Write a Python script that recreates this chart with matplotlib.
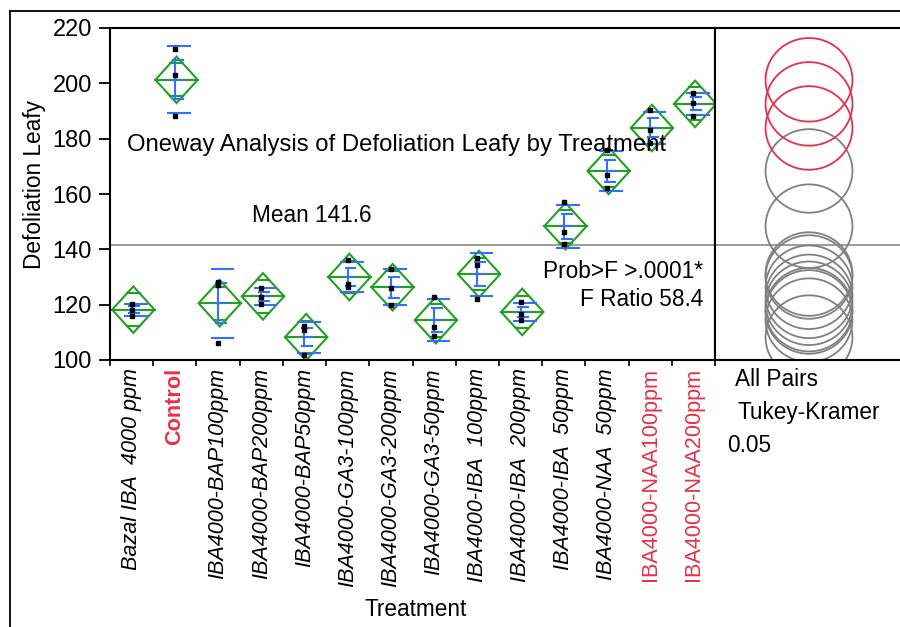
import matplotlib
matplotlib.use('Agg')
import matplotlib.pyplot as plt
import numpy as np
from matplotlib.patches import Polygon, Ellipse
from matplotlib.lines import Line2D

plt.rcParams['font.family'] = ['Liberation Sans', 'DejaVu Sans']

# data (3 replicates per treatment)
treatments = ['Bazal IBA  4000 ppm', 'Control', 'IBA4000-BAP100ppm', 'IBA4000-BAP200ppm',
              'IBA4000-BAP50ppm', 'IBA4000-GA3-100ppm', 'IBA4000-GA3-200ppm', 'IBA4000-GA3-50ppm',
              'IBA4000-IBA  100ppm', 'IBA4000-IBA  200ppm', 'IBA4000-IBA  50ppm',
              'IBA4000-NAA  50ppm', 'IBA4000-NAA100ppm', 'IBA4000-NAA200ppm']
rep1 = [120.4, 212.4, 128.1, 126.1, 112.2, 136.3, 132.9, 122.8, 136.7, 120.8, 157.0, 176.0, 190.2, 196.5]
rep2 = [118.2, 203.1, 127.2, 122.8, 110.7, 127.3, 126.1, 111.9, 134.3, 116.7, 146.1, 167.0, 183.0, 192.9]
rep3 = [116.0, 188.3, 106.2, 120.1, 101.9, 126.4, 119.9, 108.5, 122.2, 114.6, 142.0, 162.0, 178.4, 188.3]
highlight = ['Control', 'IBA4000-NAA100ppm', 'IBA4000-NAA200ppm']
t_crit = 2.048   # t(0.975, 28)
q_star = 3.68    # Tukey-Kramer q* (alpha 0.05)

GREEN = '#22A022'
BLUE = '#3370FF'
RED = '#E8304A'
GRAY = '#808080'

vals = np.array([rep1, rep2, rep3]).T
n = vals.shape[1]
means = vals.mean(axis=1)
sds = vals.std(axis=1, ddof=1)
ses = sds / np.sqrt(n)
se_pool = np.sqrt((sds ** 2).mean()) / np.sqrt(n)
ci = t_crit * se_pool
radius = q_star * se_pool
grand = means.mean()

fig = plt.figure(figsize=(9, 6.27), dpi=100)
ax = fig.add_axes([110/900, 267/627, 605/900, 332/627])
axr = fig.add_axes([715/900, 267/627, 185/900, 332/627])

x = np.arange(len(treatments))
hw = 0.49
for i, m in enumerate(means):
    xc = i + 0.04
    ax.add_patch(Polygon([[xc - hw, m], [xc, m + ci], [xc + hw, m], [xc, m - ci]],
                         closed=True, fill=False, ec=GREEN, lw=1.5, zorder=2))
    ax.plot([xc - hw, xc + hw], [m, m], color=GREEN, lw=1.5, zorder=2)
    off = ci / np.sqrt(2)
    chord = hw * (1 - 1 / np.sqrt(2))
    for yy in (m - off, m + off):
        ax.plot([xc - chord, xc + chord], [yy, yy], color=GREEN, lw=1.5, zorder=2)
    # std dev lines and mean error bars
    for yy in (m - sds[i], m + sds[i]):
        ax.plot([i - 0.15, i + 0.35], [yy, yy], color=BLUE, lw=1.5, zorder=3)
    ax.plot([i, i], [m - ses[i], m + ses[i]], color=BLUE, lw=1.5, zorder=3)
    for yy in (m - ses[i], m, m + ses[i]):
        ax.plot([i - 0.05, i + 0.18], [yy, yy], color=BLUE, lw=1.5, zorder=3)
    ax.plot([i] * n, vals[i], 's', color='black', ms=3, zorder=4)

ax.axhline(grand, color='#8a8a8a', lw=1.2, zorder=1)
ax.set_xlim(-0.5, 13.5)
ax.set_ylim(100, 220)
ax.set_yticks(range(100, 221, 20))
ax.tick_params(axis='y', length=8, width=1.3, labelsize=17, pad=5)
ax.set_xticks(np.arange(-0.5, 14, 1))
ax.set_xticklabels([])
ax.tick_params(axis='x', which='major', length=4, width=1.2)
ax.set_xticks(x, minor=True)
ax.set_xticklabels(treatments, minor=True, rotation=90, va='top', ha='center',
                   fontsize=15.6, style='italic')
ax.tick_params(axis='x', which='minor', length=0, pad=6)
for lab in ax.get_xticklabels(minor=True):
    if lab.get_text() in highlight:
        lab.set_color(RED)
        lab.set_style('normal')
        if lab.get_text() == 'Control':
            lab.set_weight('bold')
for sp in ax.spines.values():
    sp.set_linewidth(1.5)

ax.text(-0.107, 177.8, 'Oneway Analysis of Defoliation Leafy by Treatment',
        fontsize=17.2, va='center', ha='left')
ax.text(4.175, 152.2, 'Mean 141.6', fontsize=16.3, va='center', ha='center')
ax.text(13.22, 131.9, 'Prob>F >.0001*', fontsize=16.3, va='center', ha='right')
ax.text(13.22, 121.8, 'F Ratio 58.4', fontsize=16.3, va='center', ha='right')

# comparison circles
axr.set_xlim(0, 185)
axr.set_ylim(100, 220)
axr.set_xticks([])
axr.set_yticks([])
axr.axhline(grand, color='#8a8a8a', lw=1.2, zorder=1)
px_per_unit = 332 / 120
for name, m in zip(treatments, means):
    col = RED if name in highlight else GRAY
    axr.add_patch(Ellipse((94, m), width=2 * radius * px_per_unit * 1.04, height=2 * radius,
                          fill=False, ec=col, lw=1.3, zorder=3 if col == RED else 2))
axr.spines['right'].set_visible(False)
for sp in ('left', 'top', 'bottom'):
    axr.spines[sp].set_linewidth(1.5)

fig.text(416/900, 1 - 609/627, 'Treatment', fontsize=16.3, ha='center', va='center')
fig.text(35/900, 1 - 185/627, 'Defoliation Leafy', fontsize=16.3, ha='center', va='center',
         rotation=90)
fig.text(735/900, 1 - 380/627, 'All Pairs', fontsize=16.3, ha='left', va='center')
fig.text(737/900, 1 - 412/627, 'Tukey-Kramer', fontsize=16.3, ha='left', va='center')
fig.text(727/900, 1 - 446/627, '0.05', fontsize=16.3, ha='left', va='center')

fig.add_artist(Line2D([10/900, 10/900], [0, 616/627], transform=fig.transFigure,
                      color='black', lw=1.3))
fig.add_artist(Line2D([10/900, 1], [616/627, 616/627], transform=fig.transFigure,
                      color='black', lw=1.3))

fig.savefig('out.png', dpi=100)
